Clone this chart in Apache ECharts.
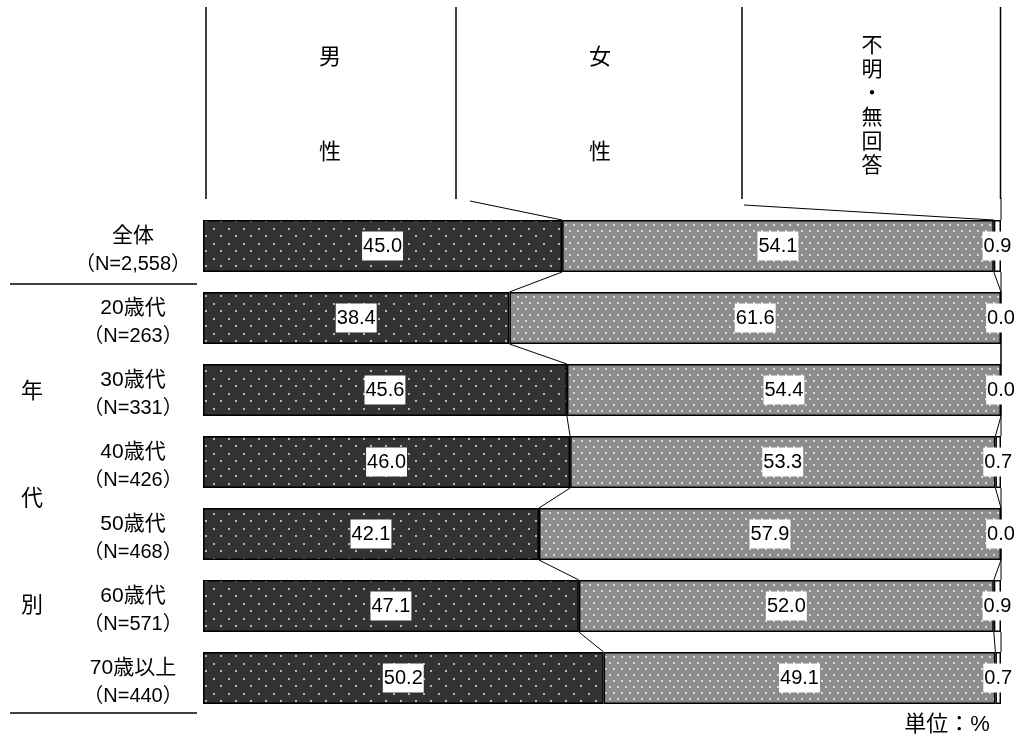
<!DOCTYPE html>
<html>
<head>
<meta charset="utf-8">
<script src="https://cdn.jsdelivr.net/npm/echarts@6/dist/echarts.min.js"></script>
<style>
html,body{margin:0;padding:0;background:#fff;}
#chart{width:1021px;height:742px;}
</style>
</head>
<body>
<div id="chart"></div>
<script>
const categories = ['全体', '20歳代', '30歳代', '40歳代', '50歳代', '60歳代', '70歳以上'];
const sampleSizes = ['2,558', '263', '331', '426', '468', '571', '440'];
const seriesNames = ['男性', '女性', '不明・無回答'];
const male = [45.0, 38.4, 45.6, 46.0, 42.1, 47.1, 50.2];
const female = [54.1, 61.6, 54.4, 53.3, 57.9, 52.0, 49.1];
const unknown = [0.9, 0.0, 0.0, 0.7, 0.0, 0.9, 0.7];

const FONT = '"Liberation Sans", Arial, "Noto Sans CJK JP", sans-serif';
const CJK = '"Noto Sans CJK JP"';
const BAR_W = 52;

function makePattern(bg, dot, w, h, pts) {
  const c = document.createElement('canvas');
  c.width = w; c.height = h;
  const ctx = c.getContext('2d');
  ctx.fillStyle = bg; ctx.fillRect(0, 0, w, h);
  ctx.fillStyle = dot;
  pts.forEach(p => ctx.fillRect(p[0], p[1], 2, 2));
  return c;
}
const darkPat = makePattern('#333333', '#b8b8b8', 15, 15, [[3, 3], [10, 10]]);
const grayPat = makePattern('#8c8c8c', '#d9d9d9', 8, 12, [[1, 2], [5, 8]]);

const chart = echarts.init(document.getElementById('chart'), null, {renderer: 'canvas'});

const labelStyle = {
  show: true,
  position: 'inside',
  color: '#000',
  fontFamily: FONT,
  fontSize: 20,
  backgroundColor: '#fff',
  padding: [5, 1, 4, 1],
  formatter: p => Number(p.value).toFixed(1)
};

function boundaries(i) {
  return [male[i], male[i] + female[i], 100];
}

function txt(x, y, s, size, extra) {
  return Object.assign({type: 'text', x: x, y: y, style: Object.assign({text: s, font: size + 'px ' + CJK, fill: '#000', align: 'center', verticalAlign: 'middle'}, extra || {})});
}

const option = {
  animation: false,
  backgroundColor: '#fff',
  grid: {left: 203, right: 20, top: 210, height: 504, containLabel: false},
  xAxis: {type: 'value', min: 0, max: 100, show: false},
  yAxis: {
    type: 'category',
    inverse: true,
    data: categories,
    axisLine: {show: false},
    axisTick: {show: false},
    splitLine: {show: false},
    axisLabel: {
      margin: 70,
      align: 'center',
      padding: [8, 0, 0, 0],
      formatter: function (v, idx) {
        return '{a|' + v + '}\n{b|（N=' + sampleSizes[idx] + '）}';
      },
      rich: {
        a: {fontFamily: FONT, fontSize: 21, color: '#000', lineHeight: 28, align: 'center'},
        b: {fontFamily: FONT, fontSize: 20, color: '#000', lineHeight: 28, align: 'center'}
      }
    }
  },
  series: [
    {
      name: seriesNames[0], type: 'bar', stack: 'all', barWidth: BAR_W, data: male,
      itemStyle: {color: {image: darkPat, repeat: 'repeat'}, borderColor: '#000', borderWidth: 1.5},
      label: labelStyle, z: 3
    },
    {
      name: seriesNames[1], type: 'bar', stack: 'all', barWidth: BAR_W, data: female,
      itemStyle: {color: {image: grayPat, repeat: 'repeat'}, borderColor: '#000', borderWidth: 1.5},
      label: labelStyle, z: 3
    },
    {
      name: seriesNames[2], type: 'bar', stack: 'all', barWidth: BAR_W, data: unknown,
      itemStyle: {color: '#fff', borderColor: '#000', borderWidth: 1.5},
      label: labelStyle, z: 4
    },
    {
      type: 'custom',
      z: 1,
      data: categories.map((c, i) => [0, i]),
      encode: {x: 0, y: 1},
      silent: true,
      renderItem: function (params, api) {
        const i = params.dataIndex;
        const half = BAR_W / 2;
        const children = [];
        const ls = {stroke: '#000', lineWidth: 1};
        if (i < categories.length - 1) {
          const b0 = boundaries(i), b1 = boundaries(i + 1);
          for (let k = 0; k < 3; k++) {
            const p0 = api.coord([b0[k], i]);
            const p1 = api.coord([b1[k], i + 1]);
            children.push({type: 'line', shape: {x1: p0[0], y1: p0[1] + half, x2: p1[0], y2: p1[1] - half}, style: ls});
          }
        }
        if (i === 0) {
          const b0 = boundaries(0);
          const pm = api.coord([b0[0], 0]);
          const pf = api.coord([b0[1], 0]);
          const pr = api.coord([b0[2], 0]);
          children.push({type: 'line', shape: {x1: 470, y1: 201, x2: pm[0], y2: pm[1] - half}, style: ls});
          children.push({type: 'line', shape: {x1: 744, y1: 205, x2: pf[0], y2: pf[1] - half}, style: ls});
          children.push({type: 'line', shape: {x1: pr[0], y1: 198, x2: pr[0], y2: pr[1] - half}, style: ls});
        }
        return {type: 'group', children: children};
      }
    }
  ],
  graphic: [
    {type: 'line', shape: {x1: 206, y1: 7, x2: 206, y2: 199}, style: {stroke: '#000', lineWidth: 1.5}},
    {type: 'line', shape: {x1: 456, y1: 7, x2: 456, y2: 199}, style: {stroke: '#000', lineWidth: 1.5}},
    {type: 'line', shape: {x1: 742, y1: 7, x2: 742, y2: 199}, style: {stroke: '#000', lineWidth: 1.5}},
    {type: 'line', shape: {x1: 1000.5, y1: 7, x2: 1000.5, y2: 199}, style: {stroke: '#000', lineWidth: 1.5}},
    txt(330, 56, '男', 22),
    txt(330, 151, '性', 22),
    txt(600, 56, '女', 22),
    txt(600, 151, '性', 22),
    txt(872, 104, '不\n明\n・\n無\n回\n答', 21, {lineHeight: 24}),
    txt(32, 390, '年', 22),
    txt(32, 497, '代', 22),
    txt(32, 604, '別', 22),
    {type: 'line', shape: {x1: 10, y1: 284, x2: 197, y2: 284}, style: {stroke: '#000', lineWidth: 1.5}},
    {type: 'line', shape: {x1: 10, y1: 713, x2: 197, y2: 713}, style: {stroke: '#000', lineWidth: 1.5}},
    {type: 'text', x: 947, y: 725, style: {text: '単位：%', font: '22px "Liberation Sans", "Noto Sans CJK JP"', fill: '#000', align: 'center', verticalAlign: 'middle'}}
  ]
};
chart.setOption(option);
</script>
</body>
</html>
